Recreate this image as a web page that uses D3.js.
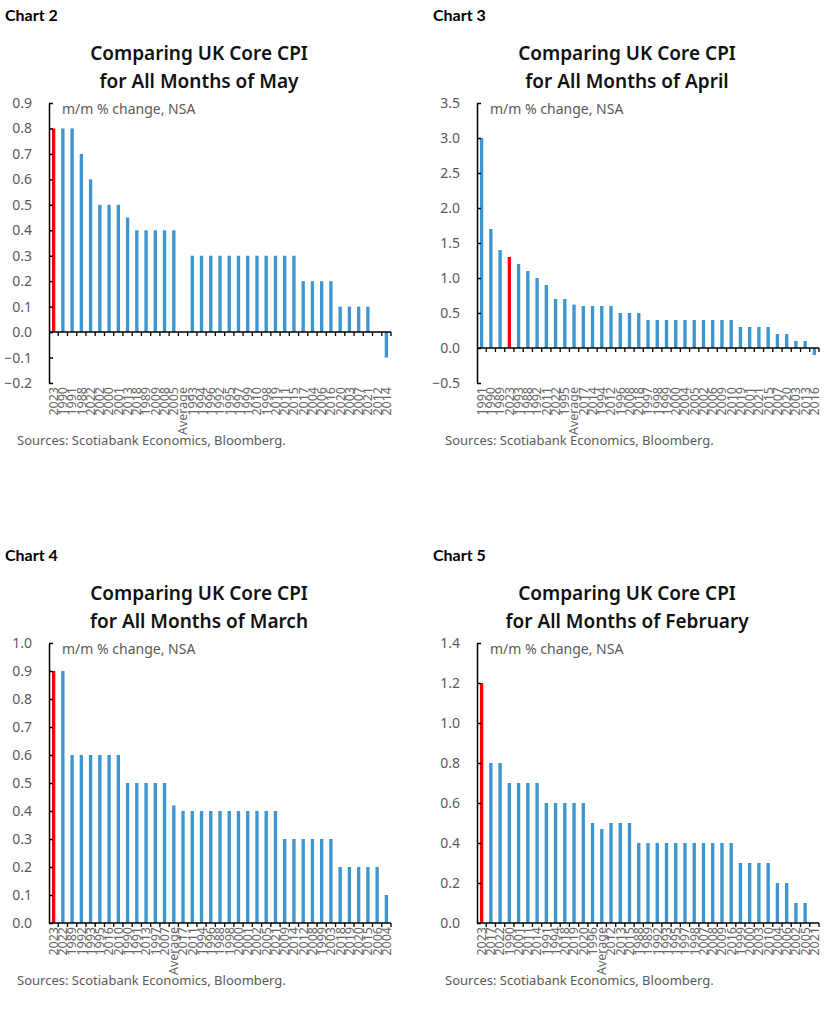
<!DOCTYPE html>
<html>
<head>
<meta charset="utf-8">
<script src="https://cdn.jsdelivr.net/npm/d3@7"></script>
<style>
  body { margin: 0; background: #fff; }
  text { font-family: "Noto Sans", "Open Sans", sans-serif; }
</style>
</head>
<body>
<script>
const SvgWidth = 828, SvgHeight = 1023;

// Chart 2 - May
var mayYears = ["2023","1990","1991","1988","2022","2002","2000","2001","2013","2018","1989","2009","2008","2005","Average",
  "1993","1994","1996","1992","1995","1997","1999","2010","1998","2019","2011","2015",
  "2017","2004","2006","2016","2020","2003","2007","2021","2012","2014"];
var mayValues = [0.8,0.8,0.8,0.7,0.6,0.5,0.5,0.5,0.45,0.4,0.4,0.4,0.4,0.4,null,
  0.3,0.3,0.3,0.3,0.3,0.3,0.3,0.3,0.3,0.3,0.3,0.3,
  0.2,0.2,0.2,0.2,0.1,0.1,0.1,0.1,0.0,-0.1];
var mayTicks = [-0.2,-0.1,0,0.1,0.2,0.3,0.4,0.5,0.6,0.7,0.8,0.9];

// Chart 3 - April
var aprYears = ["1991","1990","1989","2023","1993","1988","1992","2011","2022","1995","Average",
  "2017","2014","1994","2012","1996","2008","2018",
  "1997","1998","1999","2000","2004","2005","2002","2006","2009","2010",
  "2019","2001","2021","2015","2007","2020","2003","2013","2016"];
var aprValues = [3.0,1.7,1.4,1.3,1.2,1.1,1.0,0.9,0.7,0.7,0.62,
  0.6,0.6,0.6,0.6,0.5,0.5,0.5,
  0.4,0.4,0.4,0.4,0.4,0.4,0.4,0.4,0.4,0.4,
  0.3,0.3,0.3,0.3,0.2,0.2,0.1,0.1,-0.1];
var aprTicks = [-0.5,0,0.5,1.0,1.5,2.0,2.5,3.0,3.5];

// Chart 4 - March
var marYears = ["2023","2022","1989","1992","1993","1995","2016","2010","1990","1991","2013","1997","2007","Average",
  "2017","2011","1994","1996","1988","1998","2000","2001","2002","2005","2021",
  "2009","2014","2012","2008","1999","2003","2018","2019","2020","2015","2006","2004"];
var marValues = [0.9,0.9,0.6,0.6,0.6,0.6,0.6,0.6,0.5,0.5,0.5,0.5,0.5,0.42,
  0.4,0.4,0.4,0.4,0.4,0.4,0.4,0.4,0.4,0.4,0.4,
  0.3,0.3,0.3,0.3,0.3,0.3,0.2,0.2,0.2,0.2,0.2,0.1];
var marTicks = [0,0.1,0.2,0.3,0.4,0.5,0.6,0.7,0.8,0.9,1.0];

// Chart 5 - February
var febYears = ["2023","2017","2022","1990","2001","2011","2014","1991","1994","2018","2019","2020","1996","Average",
  "2012","2013","2015","1988","1989","1992","1993","1995","1997","1998","2007","2008","2009","2016",
  "1999","2000","2003","2010","2004","2006","2002","2005","2021"];
var febValues = [1.2,0.8,0.8,0.7,0.7,0.7,0.7,0.6,0.6,0.6,0.6,0.6,0.5,0.47,
  0.5,0.5,0.5,0.4,0.4,0.4,0.4,0.4,0.4,0.4,0.4,0.4,0.4,0.4,
  0.3,0.3,0.3,0.3,0.2,0.2,0.1,0.1,0.0];
var febTicks = [0,0.2,0.4,0.6,0.8,1.0,1.2,1.4];

var charts = [
  {num:"Chart 2", month:"May", years:mayYears, values:mayValues, ticks:mayTicks, ox:0, oy:0},
  {num:"Chart 3", month:"April", years:aprYears, values:aprValues, ticks:aprTicks, ox:428, oy:0},
  {num:"Chart 4", month:"March", years:marYears, values:marValues, ticks:marTicks, ox:0, oy:540},
  {num:"Chart 5", month:"February", years:febYears, values:febValues, ticks:febTicks, ox:428, oy:540}
];

var svg = d3.select('body')
  .append('svg')
  .attr('width', SvgWidth)
  .attr('height', SvgHeight)
  .style('background-color', 'white');

charts.forEach(function(c){
  var g = svg.append('g').attr('transform', 'translate(' + c.ox + ',' + c.oy + ')');
  var left = 49, top = 103, bottom = 383, plotW = 342;

  g.append('text').attr('x', 5).attr('y', 21)
    .style('font-family', 'Lato, sans-serif').style('font-weight', 'bold').style('font-size', '16px')
    .attr('fill', '#000').text(c.num);

  g.append('text').attr('x', 199).attr('y', 60).attr('text-anchor', 'middle')
    .style('font-weight', 600).style('font-size', '19px').attr('fill', '#111')
    .text('Comparing UK Core CPI');
  g.append('text').attr('x', 199).attr('y', 88).attr('text-anchor', 'middle')
    .style('font-weight', 600).style('font-size', '19px').attr('fill', '#111')
    .text('for All Months of ' + c.month);

  var x = d3.scaleBand().domain(d3.range(c.years.length))
    .range([left, left + plotW]).paddingInner(0.64).paddingOuter(0.32);
  var y = d3.scaleLinear().domain([c.ticks[0], c.ticks[c.ticks.length - 1]]).range([bottom, top]);

  g.selectAll('.bar')
    .data(c.values.map(function(v, i){ return {v: v, i: i, year: c.years[i]}; })
      .filter(function(d){ return d.v !== null; }))   // May average bar is not drawn in the source
    .enter().append('rect')
      .attr('class', 'bar')
      .attr('fill', function(d){ return d.year === '2023' ? '#ff0000' : '#3d96d1'; })
      .attr('x', function(d){ return x(d.i); })
      .attr('width', x.bandwidth())
      .attr('y', function(d){ return y(Math.max(0, d.v)); })
      .attr('height', function(d){ return Math.abs(y(d.v) - y(0)); });

  // x axis on the zero line, ticks sit between categories
  var xa = g.append('g')
    .attr('transform', 'translate(' + (x.step() / 2) + ',' + y(0) + ')')
    .call(d3.axisBottom(x).tickSize(4).tickSizeOuter(0).tickFormat(''));
  xa.select('.domain').remove();
  xa.selectAll('line').attr('stroke', '#000').attr('stroke-width', 1.3);
  g.append('line').attr('x1', left).attr('x2', left + plotW)
    .attr('y1', y(0)).attr('y2', y(0)).attr('stroke', '#000').attr('stroke-width', 1.5);

  // year labels below the plot
  g.selectAll('.xlab')
    .data(c.years)
    .enter().append('text')
      .attr('class', 'xlab')
      .attr('transform', function(d, i){ return 'translate(' + (x(i) + x.bandwidth() / 2) + ',' + (bottom + 4) + ') rotate(-90)'; })
      .attr('text-anchor', 'end')
      .attr('dy', '0.35em')
      .style('font-size', '12.5px')
      .attr('fill', '#666')
      .text(function(d){ return d; });

  var ya = g.append('g')
    .attr('transform', 'translate(' + left + ',0)')
    .call(d3.axisLeft(y).tickValues(c.ticks).tickFormat(d3.format('.1f'))
      .tickSize(-4).tickSizeOuter(0).tickPadding(17));
  ya.select('.domain').attr('stroke', '#000').attr('stroke-width', 1.5);
  ya.selectAll('line').attr('stroke', '#000').attr('stroke-width', 1.5);
  ya.selectAll('text').style('font-size', '14px').style('font-family', '"Noto Sans", sans-serif').attr('fill', '#5a5a5a');

  g.append('text').attr('x', 62).attr('y', 114)
    .style('font-size', '14px').attr('fill', '#5a5a5a').text('m/m % change, NSA');

  g.append('text').attr('x', 17).attr('y', 445)
    .style('font-size', '13px').attr('fill', '#5a5a5a').text('Sources: Scotiabank Economics, Bloomberg.');
});
</script>
</body>
</html>
